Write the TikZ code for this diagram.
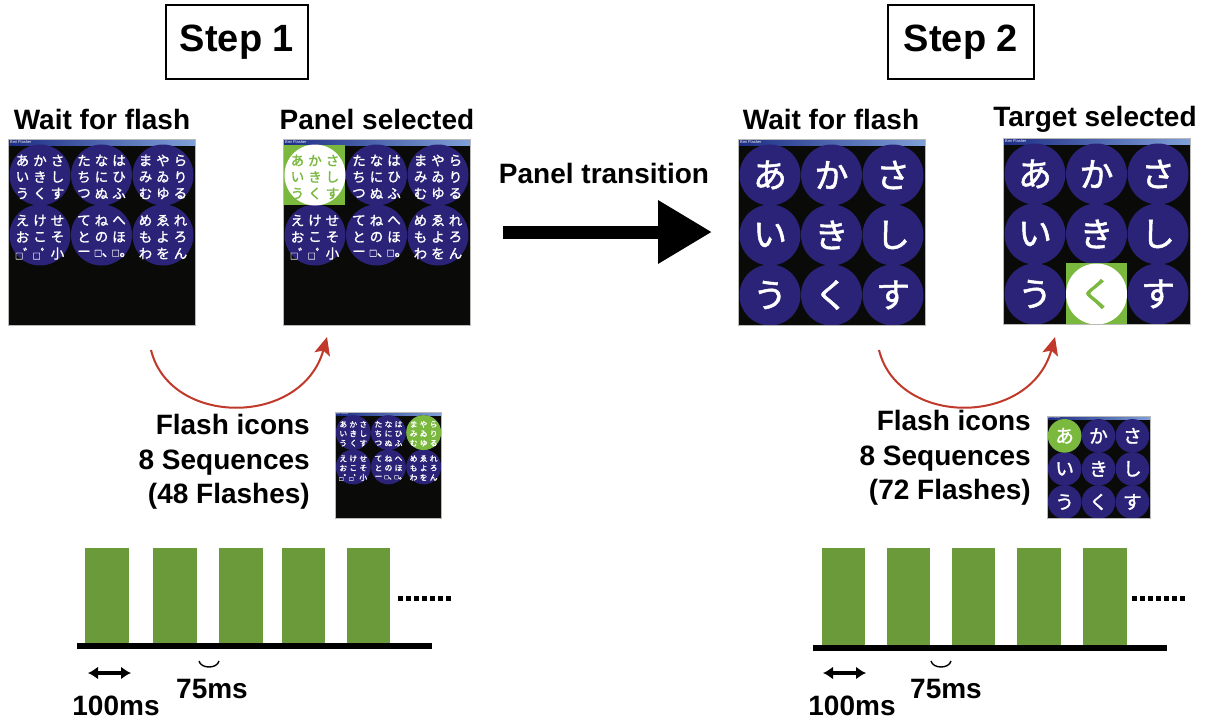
\documentclass[tikz,border=0pt]{standalone}
\usepackage{graphicx}
\usepackage{fontspec}
\setmainfont{Liberation Sans}
\newfontfamily\cjk[FakeBold=1.5]{Noto Sans CJK JP}
\usetikzlibrary{arrows.meta}
\definecolor{navy}{HTML}{2B2378}
\definecolor{selg}{HTML}{7AB83E}
\definecolor{barg}{HTML}{6A9A3A}
\definecolor{redarc}{HTML}{C0392B}
\definecolor{scr}{HTML}{0A0A08}
\definecolor{tbA}{HTML}{1C2C84}
\definecolor{tbB}{HTML}{7FA0D8}
\tikzset{
  lbl/.style={font=\fontsize{28}{34.5}\selectfont\bfseries, inner sep=0pt},
  stepbox/.style={draw, line width=1.5pt, minimum height=74pt, font=\fontsize{38}{40}\selectfont\bfseries},
  kana/.style={font=\cjk\fontsize{13.5}{13.5}\selectfont, text=white, inner sep=0pt},
  bigkana/.style={font=\cjk\fontsize{34}{34}\selectfont, text=white, inner sep=0pt},
  flow/.style={redarc, line width=2pt, -{Stealth[length=18pt,width=16pt,inset=4pt]}},
  bar/.style={fill=barg},
  axis/.style={fill=black},
  dots/.style={line width=5pt, dash pattern=on 5pt off 3pt},
  span/.style={line width=3.5pt, {Latex[length=10pt,width=13pt]}-{Latex[length=10pt,width=13pt]}},
  gap/.style={line width=1.4pt},
  frame/.style={draw=gray!55, line width=1pt},
  ms/.style={font=\fontsize{28}{28}\selectfont\bfseries, inner sep=0pt},
}
\newcommand\screenbg{%
  \fill[scr] (0,0) rectangle (187,186);
  \shade[left color=tbA,right color=tbB] (0,0) rectangle (187,6);
  \node[font=\fontsize{4}{4}\selectfont, text=white, anchor=west, inner sep=0pt] at (2,3) {Bmi Flasher};}
\newcommand\screenframe{\draw[frame] (0,0) rectangle (187,186);}
\newcommand\dk[1]{\makebox[1em][c]{\scalebox{0.6}{□}#1}}
\newcommand\kgrid[4]{%
  \foreach \ch [count=\k from 0] in {#4}{%
    \pgfmathsetmacro\cc{mod(\k,3)-1}%
    \pgfmathsetmacro\rr{floor(\k/3)-1}%
    \node[kana,text=#3] at ({#1+\cc*17.5},{#2+\rr*16.5+2}) {\ch};}}
\newcommand\sixpanel[1]{%
  \kgrid{32}{36}{#1}{あ,か,さ,い,き,し,う,く,す}
  \kgrid{93.5}{36}{white}{た,な,は,ち,に,ひ,つ,ぬ,ふ}
  \kgrid{155}{36}{white}{ま,や,ら,み,ゐ,り,む,ゆ,る}
  \kgrid{32}{96}{white}{え,け,せ,お,こ,そ,{\dk{ﾞ}},{\dk{ﾟ}},小}
  \kgrid{93.5}{96}{white}{て,ね,へ,と,の,ほ,ー,{\dk{､}},{\dk{｡}}}
  \kgrid{155}{96}{white}{め,ゑ,れ,も,よ,ろ,わ,を,ん}}
\newcommand\ninepanel{%
  \foreach \ch [count=\k from 0] in {あ,か,さ,い,き,し,う,く,す}{%
    \pgfmathsetmacro\cx{32+61.5*mod(\k,3)}%
    \pgfmathsetmacro\cy{36+60*floor(\k/3)}%
    \node[bigkana] at (\cx,\cy) {\ch};}}
\begin{document}
\begin{tikzpicture}[x=1pt,y=-1pt]
\useasboundingbox (0,0) rectangle (1208,723);
\fill[white] (0,0) rectangle (1208,723);

% step boxes
\node[stepbox, minimum width=142pt] (step1) at (237,42) {Step 1};
\node[stepbox, minimum width=146pt] (step2) at (961,42) {Step 2};

% headings
\node[lbl] (wait1) at (102,119) {Wait for flash};
\node[lbl] (sel1) at (377,119) {Panel selected};
\node[lbl] (wait2) at (831,119) {Wait for flash};
\node[lbl] (sel2) at (1095,119) {Target selected};
\node[lbl] (trans) at (604,173) {Panel transition};

% panel 1: wait for flash
\begin{scope}[shift={(8,139)}]
  \screenbg
  \foreach \x in {32,93.5,155} \foreach \y in {36,96} \fill[navy] (\x,\y) circle (30.5);
  \sixpanel{white}
  \screenframe
\end{scope}

% panel 2: panel selected
\begin{scope}[shift={(283,139)}]
  \screenbg
  \foreach \x in {32,93.5,155} \foreach \y in {36,96} \fill[navy] (\x,\y) circle (30.5);
  \fill[selg] (0,6) rectangle (62,66);
  \fill[white] (32,36) circle (30.5);
  \sixpanel{selg}
  \screenframe
\end{scope}

% small flash panel, step 1
\begin{scope}[shift={(335,412)}, scale=0.572, transform shape]
  \screenbg
  \foreach \x in {32,93.5,155} \foreach \y in {36,96} \fill[navy] (\x,\y) circle (30.5);
  \fill[selg] (155,36) circle (30.5);
  \sixpanel{white}
  \screenframe
\end{scope}

% panel 3: step 2 wait
\begin{scope}[shift={(738,139)}]
  \screenbg
  \foreach \x in {32,93.5,155} \foreach \y in {36,96,156} \fill[navy] (\x,\y) circle (30.5);
  \ninepanel
  \screenframe
\end{scope}

% panel 4: target selected
\begin{scope}[shift={(1003,138)}]
  \screenbg
  \foreach \x in {32,93.5,155} \foreach \y in {36,96,156} \fill[navy] (\x,\y) circle (30.5);
  \fill[selg] (63,125) rectangle (124,186);
  \fill[white] (93.5,156) circle (30.5);
  \foreach \ch [count=\k from 0] in {あ,か,さ,い,き,し,う}{%
    \pgfmathsetmacro\cx{32+61.5*mod(\k,3)}%
    \pgfmathsetmacro\cy{36+60*floor(\k/3)}%
    \node[bigkana] at (\cx,\cy) {\ch};}
  \node[bigkana, text=selg] at (93.5,156) {く};
  \node[bigkana] at (155,156) {す};
  \screenframe
\end{scope}

% small flash panel, step 2
\begin{scope}[shift={(1047,416)}, scale=0.551, transform shape]
  \screenbg
  \foreach \x in {32,93.5,155} \foreach \y in {36,96,156} \fill[navy] (\x,\y) circle (30.5);
  \fill[selg] (32,36) circle (30.5);
  \ninepanel
  \screenframe
\end{scope}

% big transition arrow
\coordinate (ta) at (503,232);
\coordinate (tb) at (712,232);
\draw[line width=13pt, -{Triangle[length=54pt,width=60pt]}] (ta) -- (tb);

% red curved arrows
\coordinate (r1s) at (151,350);
\coordinate (r1e) at (327,337);
\draw[flow] (r1s) .. controls (170,427) and (302,427) .. (r1e);
\coordinate (r2s) at (879,350);
\coordinate (r2e) at (1055,337);
\draw[flow] (r2s) .. controls (898,427) and (1030,427) .. (r2e);

% flash icon texts
\node[lbl, align=right, anchor=east] (fi1) at (310,462) {Flash icons\\8 Sequences\\(48 Flashes)};
\node[lbl, align=right, anchor=east] (fi2) at (1031,458) {Flash icons\\8 Sequences\\(72 Flashes)};

% timeline 1
\foreach \a/\b in {85/129,153/197,219/263,282/325,347/390} \fill[bar] (\a,548) rectangle (\b,643);
\fill[axis] (77,643) rectangle (432,649);
\coordinate (d1a) at (398,598); \coordinate (d1b) at (452,598);
\draw[dots] (d1a) -- (d1b);
\coordinate (w1a) at (88,673); \coordinate (w1b) at (131,673);
\draw[span] (w1a) -- (w1b);
\coordinate (g1a) at (199,661); \coordinate (g1b) at (219,661);
\draw[gap] (g1a) .. controls (201,669) and (217,669) .. (g1b);
\node[ms] (t100a) at (116,706) {100ms};
\node[ms] (t75a) at (212,689) {75ms};

% timeline 2
\foreach \a/\b in {822/865,887/930,952/995,1017/1061,1083/1127} \fill[bar] (\a,548) rectangle (\b,645);
\fill[axis] (813,645) rectangle (1167,651);
\coordinate (d2a) at (1132,598); \coordinate (d2b) at (1186,598);
\draw[dots] (d2a) -- (d2b);
\coordinate (w2a) at (823,673); \coordinate (w2b) at (866,673);
\draw[span] (w2a) -- (w2b);
\coordinate (g2a) at (931,661); \coordinate (g2b) at (951,661);
\draw[gap] (g2a) .. controls (933,669) and (949,669) .. (g2b);
\node[ms] (t100b) at (852,706) {100ms};
\node[ms] (t75b) at (946,689) {75ms};
\end{tikzpicture}
\end{document}
